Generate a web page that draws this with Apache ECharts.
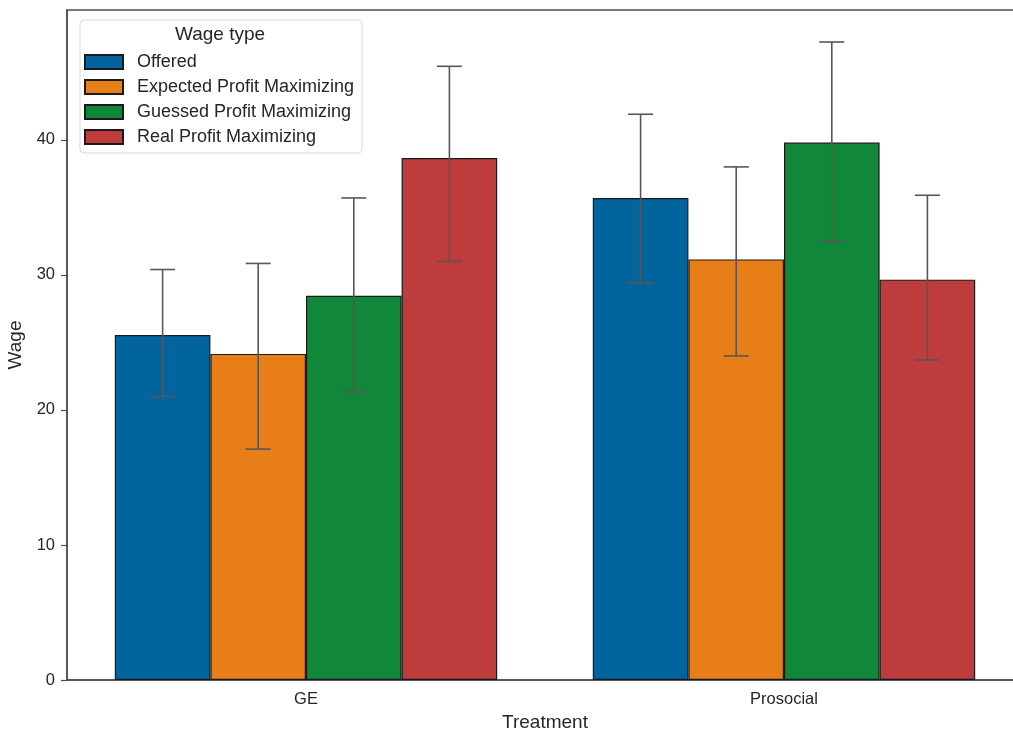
<!DOCTYPE html>
<html>
<head>
<meta charset="utf-8">
<script src="https://cdn.jsdelivr.net/npm/echarts@6/dist/echarts.min.js"></script>
<style>
  html, body { margin: 0; padding: 0; background: #fff; }
  #chart { width: 1013px; height: 729px; }
</style>
</head>
<body>
<div id="chart"></div>
<script>
// treatments on the x axis
var treatments = ['GE', 'Prosocial'];
// wage types (hue)
var wageTypes = ['Offered', 'Expected Profit Maximizing', 'Guessed Profit Maximizing', 'Real Profit Maximizing'];
var colors = ['#02649d', '#e77e17', '#11873a', '#be3c3c'];

// mean wage per wage type, [GE, Prosocial]
var offered = [25.55, 35.7];
var expected = [24.15, 31.15];
var guessed = [28.45, 39.8];
var realPM = [38.65, 29.65];

// confidence intervals [low, high] per treatment
var offeredCI = [[21.0, 30.4], [29.4, 41.9]];
var expectedCI = [[17.1, 30.85], [24.0, 38.0]];
var guessedCI = [[21.35, 35.7], [32.5, 47.25]];
var realCI = [[31.0, 45.45], [23.7, 35.9]];

var yTicks = [0, 10, 20, 30, 40];

var means = [offered, expected, guessed, realPM];
var cis = [offeredCI, expectedCI, guessedCI, realCI];

var FONT = 'Liberation Sans, Arial, sans-serif';
var chart = echarts.init(document.getElementById('chart'));

var series = [];
wageTypes.forEach(function (name, i) {
    series.push({
        name: name,
        type: 'bar',
        data: means[i],
        barWidth: '20%',
        barGap: '0%',
        itemStyle: { color: colors[i], borderColor: '#1a1a1a', borderWidth: 1.2 },
        emphasis: { disabled: true }
    });
});

// error bars drawn on top of the bars
wageTypes.forEach(function (name, i) {
    series.push({
        type: 'custom',
        name: name + ' CI',
        data: cis[i].map(function (c, k) { return [k, c[0], c[1]]; }),
        encode: { x: 0, y: [1, 2] },
        z: 10,
        silent: true,
        renderItem: function (params, api) {
            var band = api.size([1, 0])[0];
            var off = (i - 1.5) * band * 0.2;
            var lo = api.coord([api.value(0), api.value(1)]);
            var hi = api.coord([api.value(0), api.value(2)]);
            var x = lo[0] + off;
            var cap = 12.5;
            var st = { stroke: '#575757', lineWidth: 1.6 };
            return {
                type: 'group',
                children: [
                    { type: 'line', shape: { x1: x, y1: lo[1], x2: x, y2: hi[1] }, style: st },
                    { type: 'line', shape: { x1: x - cap, y1: lo[1], x2: x + cap, y2: lo[1] }, style: st },
                    { type: 'line', shape: { x1: x - cap, y1: hi[1], x2: x + cap, y2: hi[1] }, style: st }
                ]
            };
        }
    });
});

var option = {
    animation: false,
    textStyle: { fontFamily: FONT },
    grid: {
        left: 67, top: 10, right: -10, bottom: 49,
        outerBoundsMode: 'none',
        show: true, borderColor: '#4d4d4d', borderWidth: 1.5, backgroundColor: 'transparent'
    },
    legend: {
        data: wageTypes,
        orient: 'vertical',
        left: 80, top: 20,
        padding: [33, 8, 7, 4],
        itemWidth: 38, itemHeight: 14, itemGap: 7,
        icon: 'rect',
        borderColor: '#d9d9d9', borderWidth: 1, borderRadius: 4,
        backgroundColor: 'rgba(255,255,255,0.8)',
        textStyle: { fontSize: 18, color: '#262626', padding: [0, 0, 0, 9] },
        selectedMode: false
    },
    graphic: [{
        type: 'text',
        x: 220, y: 35, z: 100,
        style: {
            text: 'Wage type', fontSize: 19, fill: '#262626', fontFamily: FONT,
            align: 'center', verticalAlign: 'middle'
        }
    }],
    xAxis: {
        type: 'category',
        data: treatments,
        name: 'Treatment',
        nameLocation: 'middle',
        nameGap: 31,
        nameTextStyle: { fontSize: 19, color: '#262626' },
        axisLine: { lineStyle: { color: '#4d4d4d', width: 1.5 } },
        axisTick: { alignWithLabel: true, length: 6, lineStyle: { color: '#4d4d4d', width: 1.2 } },
        axisLabel: { fontSize: 16.5, color: '#262626', margin: 11 },
        splitLine: { show: false }
    },
    yAxis: {
        type: 'value',
        min: 0, max: 49.62,
        name: 'Wage',
        nameLocation: 'middle',
        nameGap: 39,
        nameTextStyle: { fontSize: 19, color: '#262626' },
        axisLine: { show: true, lineStyle: { color: '#4d4d4d', width: 1.5 } },
        axisTick: { show: true, length: 6, customValues: yTicks, lineStyle: { color: '#4d4d4d', width: 1.2 } },
        axisLabel: { fontSize: 16.5, color: '#262626', margin: 12, customValues: yTicks },
        splitLine: { show: false }
    },
    series: series
};

chart.setOption(option);
</script>
</body>
</html>
